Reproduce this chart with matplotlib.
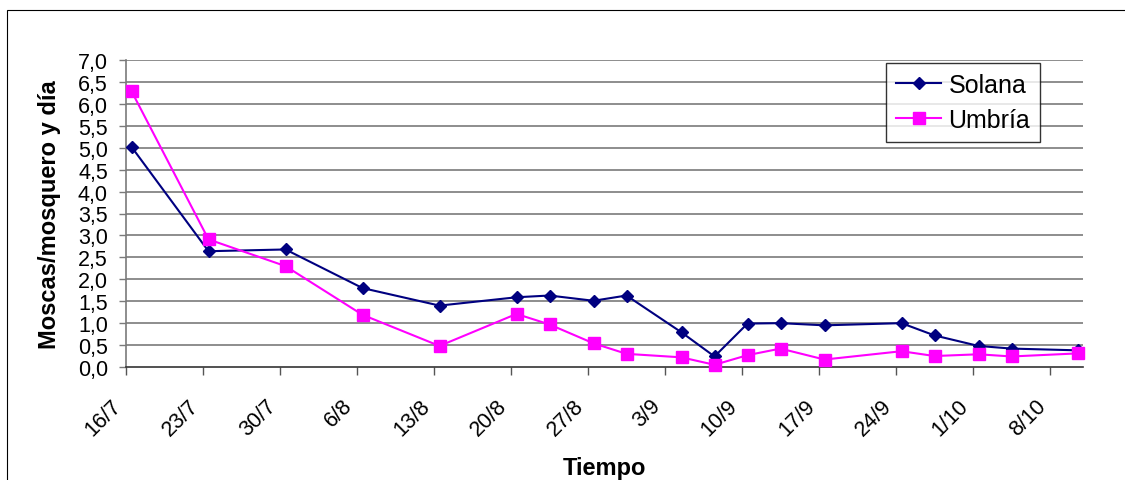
import matplotlib
matplotlib.use('Agg')
import matplotlib.pyplot as plt
import matplotlib.patches as mpatches
import pandas as pd

plt.rcParams['font.family'] = ['Liberation Sans', 'DejaVu Sans']

# sampling dates (day/month) and flies per trap and day
fechas = ['16/7', '23/7', '30/7', '6/8', '13/8', '20/8', '23/8', '27/8', '30/8', '4/9',
          '7/9', '10/9', '13/9', '17/9', '24/9', '27/9', '1/10', '4/10', '10/10']
solana = [5.02, 2.64, 2.68, 1.80, 1.40, 1.59, 1.63, 1.51, 1.63, 0.79,
          0.24, 0.99, 1.00, 0.95, 1.00, 0.72, 0.48, 0.42, 0.38]
umbria = [6.29, 2.91, 2.30, 1.19, 0.48, 1.21, 0.97, 0.54, 0.30, 0.22,
          0.05, 0.27, 0.42, 0.17, 0.36, 0.25, 0.29, 0.24, 0.31]
tick_fechas = ['16/7', '23/7', '30/7', '6/8', '13/8', '20/8', '27/8', '3/9', '10/9',
               '17/9', '24/9', '1/10', '8/10']
y_ticks = [i * 0.5 for i in range(15)]


def to_date(s):
    d, m = s.split('/')
    return pd.Timestamp(year=2007, month=int(m), day=int(d))


# excel puts each point in the middle of its day
x = [to_date(f) + pd.Timedelta(hours=12) for f in fechas]
xt = [to_date(f) for f in tick_fechas]

fig = plt.figure(figsize=(11.25, 4.81), dpi=100)
ax = fig.add_axes([126 / 1125, 1 - 368 / 481, (1083 - 126) / 1125, (368 - 61) / 481])

# chart area border
fig.patches.append(mpatches.Rectangle((7 / 1125, -0.1), 1.2, 1.1 - 11 / 481,
                                      transform=fig.transFigure, fill=False,
                                      edgecolor='black', lw=0.8))

for v in y_ticks[1:]:
    ax.axhline(v, color='#7a7a7a', lw=1.2, zorder=1)

ax.plot(x, solana, color='#000080', marker='D', markersize=6.3, lw=1.5,
        label='Solana', zorder=3, clip_on=False)
ax.plot(x, umbria, color='#ff00ff', marker='s', markersize=8.8, lw=1.5,
        label='Umbría', zorder=3, clip_on=False)

ax.set_xlim(to_date('16/7'), to_date('16/7') + pd.Timedelta(days=87))
ax.set_ylim(0, 7)

ax.set_yticks(y_ticks)
ax.set_yticklabels([f'{v:.1f}'.replace('.', ',') for v in y_ticks], fontsize=15.5)
ax.set_xticks(xt)
ax.set_xticklabels(tick_fechas, fontsize=15.5, rotation=45, ha='right')

ax.tick_params(axis='y', direction='out', length=5, width=1, color='#7a7a7a', pad=8)
ax.tick_params(axis='x', direction='out', length=6, width=1, color='#555555', pad=14)

for s in ['top', 'right']:
    ax.spines[s].set_visible(False)
ax.spines['left'].set_color('#7a7a7a')
ax.spines['left'].set_linewidth(1.2)
ax.spines['bottom'].set_color('#333333')
ax.spines['bottom'].set_linewidth(1.2)

ax.set_ylabel('Moscas/mosquero y día', fontsize=17, fontweight='bold')
ax.yaxis.set_label_coords(-0.068, 0.5)
ax.set_xlabel('Tiempo', fontsize=17, fontweight='bold')
ax.xaxis.set_label_coords(0.5, -0.29)

leg = ax.legend(loc='upper left', bbox_to_anchor=((886 - 126) / 957, (368 - 63.7) / 307),
                fontsize=18, frameon=True, fancybox=False, borderpad=0.4,
                handlelength=1.8, handletextpad=0.3, labelspacing=0.45,
                borderaxespad=0)
leg.get_frame().set_edgecolor('black')
leg.get_frame().set_linewidth(1)

fig.savefig('out.png', dpi=100)
